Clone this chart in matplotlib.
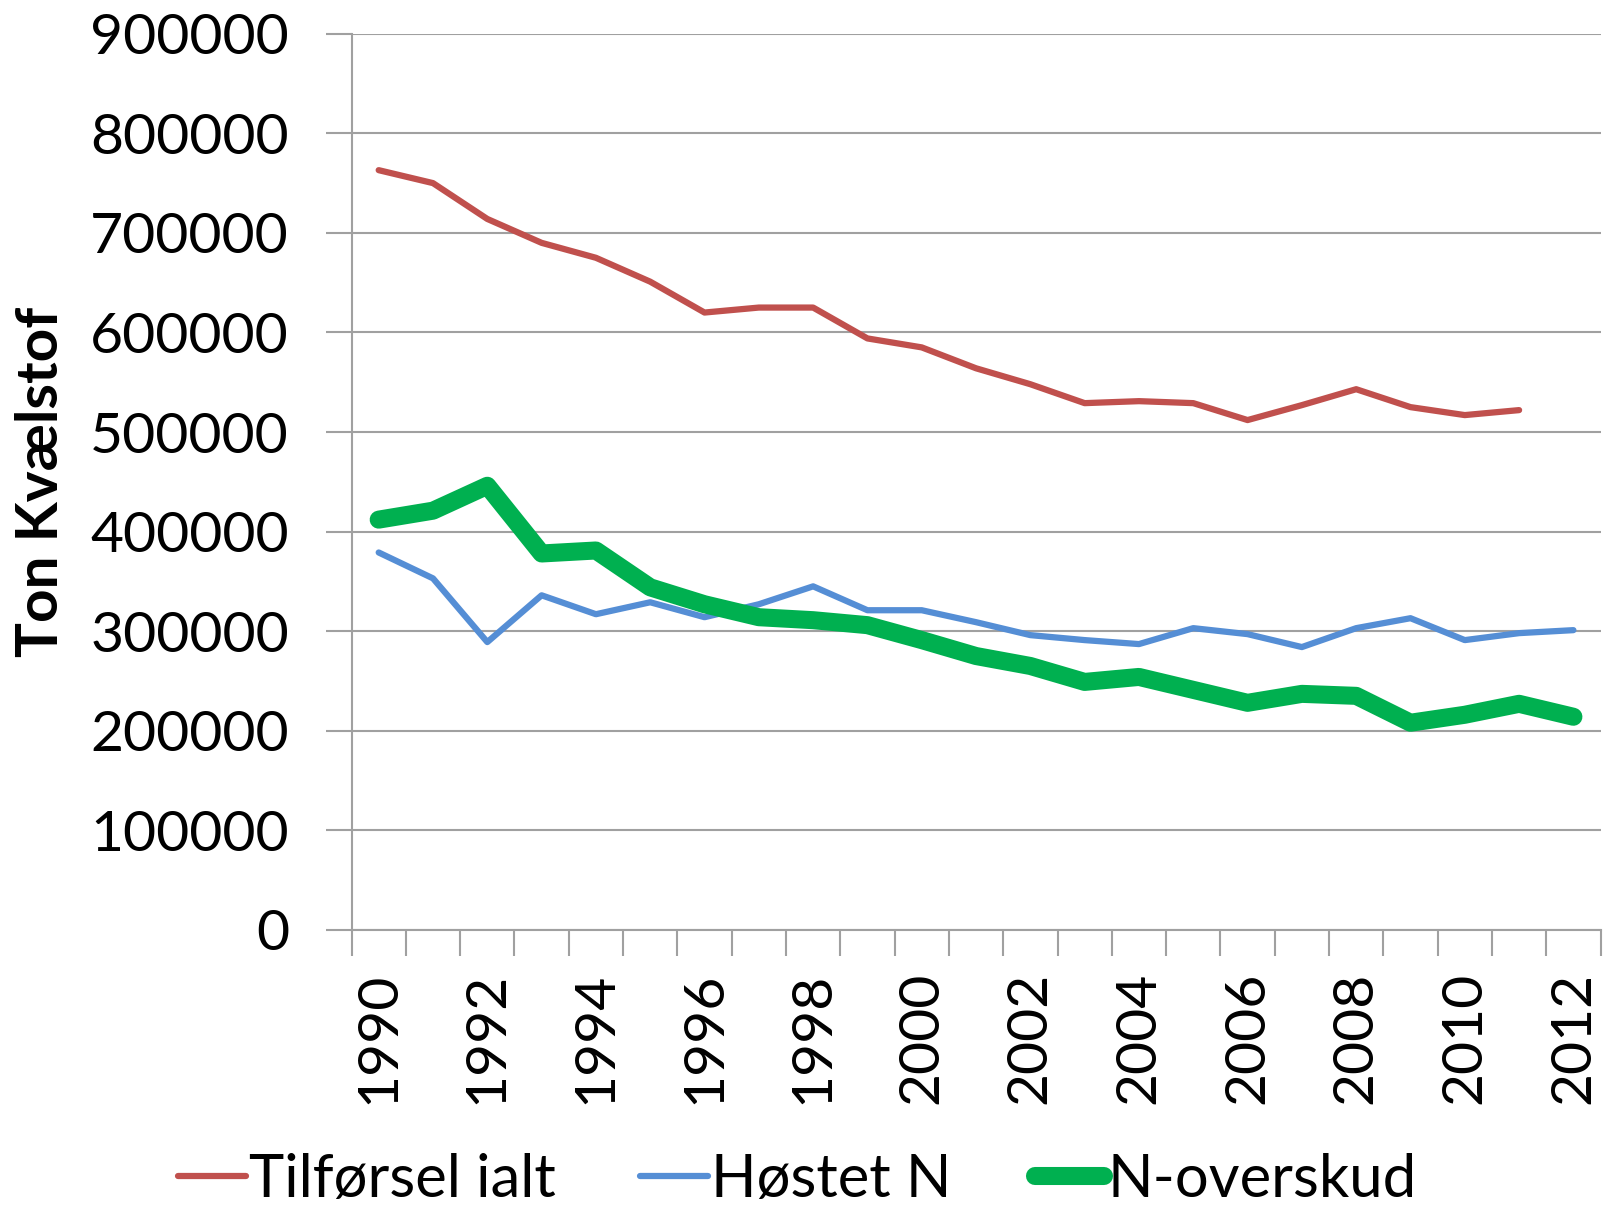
import numpy as np
import matplotlib as mpl
import matplotlib.pyplot as plt
from matplotlib.ticker import FixedLocator, NullFormatter

mpl.rcParams.update({
    "font.family": ["Lato", "DejaVu Sans"],
    "axes.spines.top": False,
    "axes.spines.right": False,
})

# data
years = list(range(1990, 2013))
tilfoersel = [763000, 750000, 714000, 690000, 675000, 651000, 620000, 625000,
              625000, 594000, 585000, 564000, 548000, 529000, 531000, 529000,
              512000, 527000, 543000, 525000, 517000, 522000]          # ends 2011
hoestet = [379000, 353000, 289000, 336000, 317000, 329000, 314000, 327000,
           345000, 321000, 321000, 309000, 296000, 291000, 287000, 303000,
           297000, 284000, 303000, 313000, 291000, 298000, 301000]
overskud = [412000, 421000, 446000, 378000, 381000, 344000, 327000, 314000,
            311000, 306000, 291000, 275000, 265000, 249000, 254000, 241000,
            228000, 237000, 235000, 208000, 216000, 227000, 214000]
y_ticks = [0, 100000, 200000, 300000, 400000, 500000, 600000, 700000, 800000, 900000]

fig = plt.figure(figsize=(16.2, 12.06), dpi=100)
ax = fig.add_axes([0.217, 0.229, 0.771, 0.743])

x = np.arange(len(years))
ax.plot(x[:len(tilfoersel)], tilfoersel, color="#C0504D", lw=4.5,
        solid_capstyle="round", solid_joinstyle="round", label="Tilførsel ialt")
ax.plot(x, hoestet, color="#558ED5", lw=4.5,
        solid_capstyle="round", solid_joinstyle="round", label="Høstet N")
ax.plot(x, overskud, color="#00B050", lw=13,
        solid_capstyle="round", solid_joinstyle="round", label="N-overskud")

ax.set_xlim(-0.5, len(years) - 0.5)
ax.set_ylim(0, 900000)
ax.set_yticks(y_ticks)
ax.set_yticklabels([str(v) for v in y_ticks])
ax.yaxis.grid(True, color="#A0A0A0", lw=1.5)
ax.set_axisbelow(True)

# year labels every other year, tick marks on the category boundaries
ax.set_xticks(x[::2])
ax.set_xticklabels([str(y) for y in years[::2]], rotation=90)
ax.xaxis.set_minor_locator(FixedLocator(np.arange(-0.5, len(years), 1.0)))
ax.xaxis.set_minor_formatter(NullFormatter())
ax.tick_params(axis="x", which="major", length=0, pad=30, labelsize=41)
ax.tick_params(axis="x", which="minor", length=19, width=1.5, color="#A0A0A0")
ax.tick_params(axis="y", length=19, width=1.5, color="#A0A0A0", pad=26, labelsize=41)

for s in ("left", "bottom"):
    ax.spines[s].set_color("#A0A0A0")
    ax.spines[s].set_linewidth(1.5)

ax.set_ylabel("Ton Kvælstof", fontsize=42, fontweight="bold")
ax.yaxis.set_label_coords(-0.227, 0.5)

fig.legend(loc="lower center", bbox_to_anchor=(0.492, -0.045), ncol=3,
           frameon=False, fontsize=43, handlelength=1.15, handletextpad=0.05,
           columnspacing=1.4)

plt.savefig("out.png", dpi=100)
